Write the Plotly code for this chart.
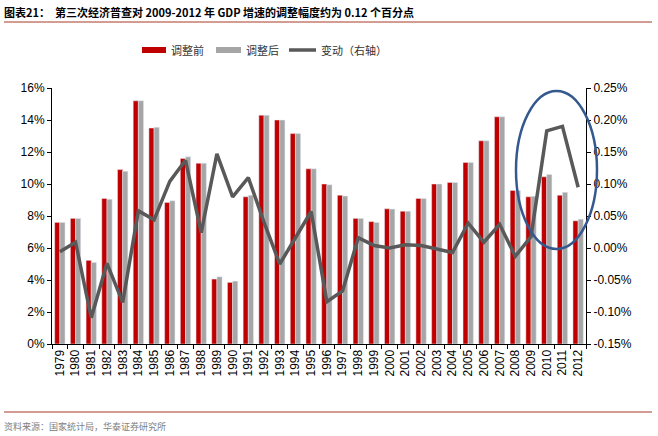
import plotly.graph_objects as go

# 年份
years = [str(y) for y in range(1979, 2013)]

# GDP 增速（%），调整前 / 调整后
before = [7.6, 7.85, 5.23, 9.1, 10.9, 15.2, 13.5, 8.85, 11.6, 11.3, 4.06, 3.85,
          9.2, 14.3, 14.0, 13.15, 10.95, 10.0, 9.3, 7.85, 7.65, 8.45, 8.3, 9.1,
          10.0, 10.1, 11.35, 12.7, 14.2, 9.6, 9.2, 10.45, 9.3, 7.7]
after = [7.6, 7.85, 5.1, 9.05, 10.8, 15.2, 13.55, 8.95, 11.7, 11.3, 4.2, 3.93,
         9.3, 14.3, 14.0, 13.15, 10.95, 9.95, 9.25, 7.85, 7.6, 8.43, 8.3, 9.1,
         10.0, 10.1, 11.35, 12.7, 14.2, 9.6, 9.23, 10.6, 9.48, 7.8]

# 变动（百分点，右轴）
change = [-0.006, 0.009, -0.109, -0.024, -0.085, 0.058, 0.044, 0.104, 0.137, 0.024,
          0.147, 0.080, 0.110, 0.040, -0.025, 0.015, 0.057, -0.084, -0.067, 0.016,
          0.004, 0.000, 0.005, 0.004, -0.002, -0.007, 0.039, 0.009, 0.037, -0.013,
          0.018, 0.183, 0.190, 0.095]

left_ticks = [0, 2, 4, 6, 8, 10, 12, 14, 16]
right_ticks = [-0.15, -0.10, -0.05, 0.00, 0.05, 0.10, 0.15, 0.20, 0.25]

RED = "#C00000"
GRAY = "#A6A6A6"
LINE = "#595959"
TICK_FONT = dict(family="Liberation Sans, Arial", size=12, color="black")
CJK = "Noto Sans CJK SC"

# 绘图区像素位置 -> paper 坐标
L, R, T, B = 52, 586, 88, 344
def px(x):
    return (x - L) / (R - L)
def py(y):
    return (B - y) / (B - T)

fig = go.Figure()
fig.add_trace(go.Bar(x=years, y=before, name="调整前", marker_color=RED))
fig.add_trace(go.Bar(x=years, y=after, name="调整后", marker_color=GRAY))
fig.add_trace(go.Scatter(x=years, y=change, name="变动（右轴）", yaxis="y2",
                         mode="lines", line=dict(color=LINE, width=3.5)))

fig.update_layout(
    width=658, height=436,
    margin=dict(l=L, r=658 - R, t=T, b=436 - B, autoexpand=False),
    plot_bgcolor="white", paper_bgcolor="white",
    barmode="group", bargap=0.34, bargroupgap=0,
    showlegend=False,
    xaxis=dict(type="category", tickangle=-90, tickfont=TICK_FONT,
               showline=True, linecolor="black", linewidth=1,
               ticks="outside", ticklen=4, tickson="boundaries", tickcolor="black",
               showgrid=False),
    yaxis=dict(range=[0, 16], tickvals=left_ticks,
               ticktext=[f"{v}%" for v in left_ticks], tickfont=TICK_FONT,
               showline=True, linecolor="black", linewidth=1,
               ticks="outside", ticklen=4, tickcolor="black",
               showgrid=False, zeroline=False),
    yaxis2=dict(range=[-0.15, 0.25], overlaying="y", side="right",
                tickvals=right_ticks, ticktext=[f"{v:.2f}%" for v in right_ticks],
                tickfont=TICK_FONT, showline=True, linecolor="black", linewidth=1,
                ticks="outside", ticklen=4, tickcolor="black",
                showgrid=False, zeroline=False),
)

# 图例（手绘，宽色块）
legend_items = [("bar", RED, "调整前", 142, 166),
                ("bar", GRAY, "调整后", 216, 241),
                ("line", LINE, "变动（右轴）", 289, 316)]
for kind, color, label, x0, x1 in legend_items:
    if kind == "bar":
        fig.add_shape(type="rect", xref="paper", yref="paper",
                      x0=px(x0), x1=px(x1), y0=py(53), y1=py(47),
                      fillcolor=color, line=dict(width=0))
    else:
        fig.add_shape(type="line", xref="paper", yref="paper",
                      x0=px(x0), x1=px(x1), y0=py(50), y1=py(50),
                      line=dict(color=color, width=3.5))
    fig.add_annotation(text=label, xref="paper", yref="paper",
                       x=px(x1 + 3), y=py(50), xanchor="left", yanchor="middle",
                       showarrow=False, font=dict(family=CJK, size=11, color="#333333"))

# 标题与来源
fig.add_annotation(text="<b>图表21：  第三次经济普查对 2009-2012 年 GDP 增速的调整幅度约为 0.12 个百分点</b>",
                   xref="paper", yref="paper", x=px(2), y=py(12),
                   xanchor="left", yanchor="middle", showarrow=False,
                   font=dict(family=CJK, size=11, color="black"))
fig.add_annotation(text="资料来源：国家统计局，华泰证券研究所",
                   xref="paper", yref="paper", x=px(2), y=py(426),
                   xanchor="left", yanchor="middle", showarrow=False,
                   font=dict(family=CJK, size=9, color="#808080"))

# 标题下和来源上的分隔线
for yline in (22, 412):
    fig.add_shape(type="line", xref="paper", yref="paper",
                  x0=px(4), x1=px(652), y0=py(yline), y1=py(yline),
                  line=dict(color="#A63A26", width=1))

# 2010-2012 处的蓝色椭圆
fig.add_shape(type="circle", xref="paper", yref="paper",
              x0=px(516), x1=px(597), y0=py(249), y1=py(91),
              line=dict(color="#35598F", width=2.5))

# 去掉页面默认的 8px 边距，让图正好占满窗口；不显示工具栏
fig.write_html("out.html", config={"displayModeBar": False},
               post_script="document.body.style.margin='0';")
